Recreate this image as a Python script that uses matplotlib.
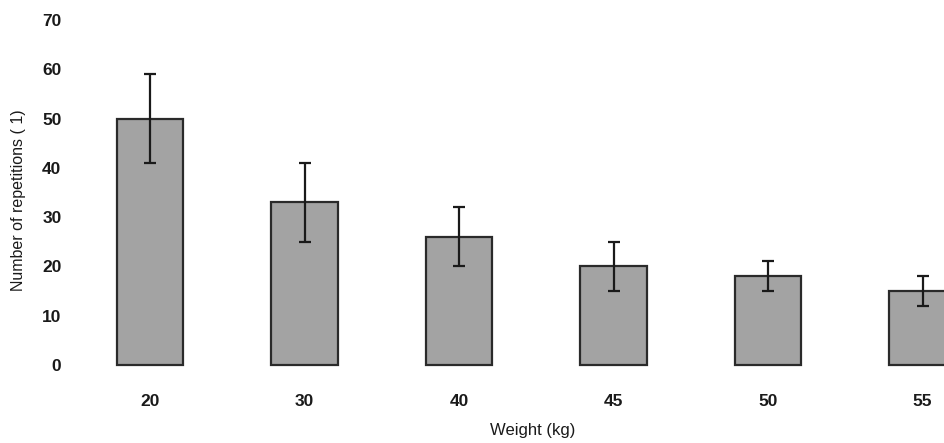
import matplotlib.pyplot as plt
import numpy as np

# Data
weights = ['20', '30', '40', '45', '50', '55']
reps = [50, 33, 26, 20, 18, 15]
reps_err = [9, 8, 6, 5, 3, 3]
y_ticks = [0, 10, 20, 30, 40, 50, 60, 70]

plt.rcParams['font.family'] = ['Liberation Sans', 'DejaVu Sans']

fig = plt.figure(figsize=(9.44, 4.43), dpi=100)
fig.patch.set_facecolor('white')
ax = fig.add_axes([0.0636, 0.1427, 0.9364, 0.8345])

x = np.arange(len(weights))

# Bars with error bars (upper and lower caps)
ax.bar(x, reps, width=0.43, color='#a3a3a3', edgecolor='#2a2a2a', linewidth=1.6, zorder=2)
ax.errorbar(x, reps, yerr=reps_err, fmt='none', ecolor='#1a1a1a',
            elinewidth=1.6, capsize=4.5, capthick=1.6, zorder=3)

ax.set_xlim(-0.583, 5.139)
ax.set_ylim(-3, 72)
ax.set_yticks(y_ticks)
ax.set_xticks(x)
ax.set_xticklabels(weights)

ax.tick_params(axis='both', length=0, labelsize=12.5, colors='#1a1a1a')
ax.tick_params(axis='x', pad=10)
ax.tick_params(axis='y', pad=-1)
for lbl in ax.get_xticklabels() + ax.get_yticklabels():
    lbl.set_fontweight('bold')

# No visible axis lines
for side in ['top', 'right', 'bottom', 'left']:
    ax.spines[side].set_visible(False)

ax.set_xlabel('Weight (kg)', fontsize=12, color='#1a1a1a', va='center')
ax.set_ylabel('Number of repetitions ( 1)', fontsize=11.5, color='#1a1a1a', va='center')
ax.xaxis.set_label_coords(0.535, -0.1385)
ax.yaxis.set_label_coords(-0.0475, 0.486)

fig.savefig('out.png', dpi=100)
